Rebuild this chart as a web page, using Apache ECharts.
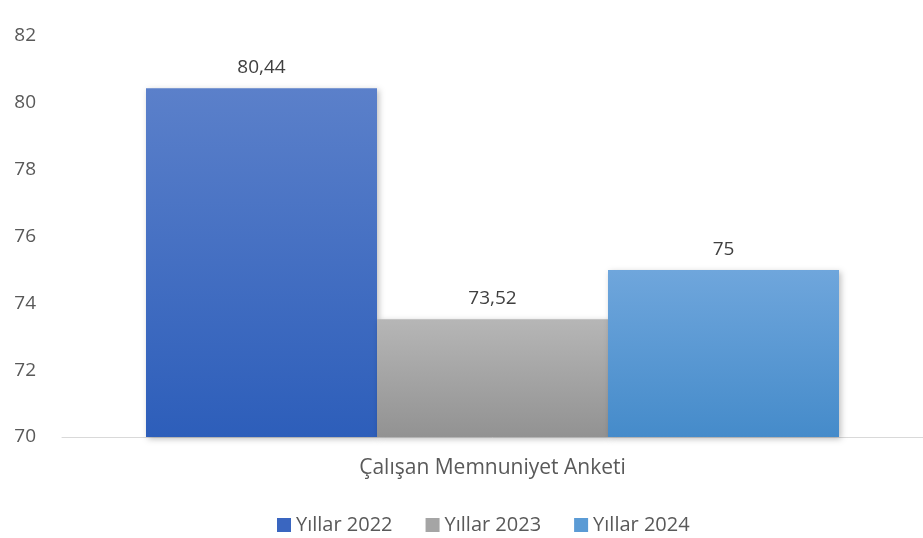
<!DOCTYPE html>
<html>
<head>
<meta charset="utf-8">
<script src="https://cdn.jsdelivr.net/npm/echarts@6/dist/echarts.min.js"></script>
<style>
  html, body { margin: 0; padding: 0; background: #fff; }
  #chart { width: 923px; height: 538px; }
</style>
</head>
<body>
<div id="chart"></div>
<script>
const categories = ["Çalışan Memnuniyet Anketi"];
const seriesNames = ["Yıllar 2022", "Yıllar 2023", "Yıllar 2024"];
const values2022 = [80.44];
const values2023 = [73.52];
const values2024 = [75];
const yTicks = [70, 72, 74, 76, 78, 80, 82];

const font = "'Open Sans', 'Noto Sans', sans-serif";

function grad(top, bottom) {
  return new echarts.graphic.LinearGradient(0, 0, 0, 1, [
    { offset: 0, color: top },
    { offset: 1, color: bottom }
  ]);
}

const colors = [
  grad("#5b80ca", "#2d5eba"),
  grad("#b6b6b6", "#929292"),
  grad("#6fa6dc", "#458bca")
];
const legendColors = ["#3a66c0", "#a5a5a5", "#5b9bd5"];

function makeSeries(name, data, i) {
  return {
    name: name,
    type: "bar",
    data: data,
    barWidth: 231,
    barGap: "0%",
    itemStyle: {
      color: colors[i],
      shadowColor: "rgba(0,0,0,0.25)",
      shadowBlur: 6,
      shadowOffsetX: 2,
      shadowOffsetY: 2
    },
    label: {
      show: true,
      position: "top",
      distance: 11,
      fontFamily: font,
      fontSize: 19,
      color: "#404040",
      formatter: p => String(p.value).replace(".", ",")
    }
  };
}

const chart = echarts.init(document.getElementById("chart"));
chart.setOption({
  animation: false,
  grid: { left: 62, right: 0, top: 36, bottom: 101, containLabel: false },
  legend: {
    top: 510,
    left: 272,
    itemWidth: 14,
    itemHeight: 14,
    itemGap: 33,
    icon: "rect",
    textStyle: { fontFamily: font, fontSize: 20, color: "#595959" },
    data: seriesNames.map((n, i) => ({ name: n, itemStyle: { color: legendColors[i], shadowBlur: 0 } }))
  },
  xAxis: {
    type: "category",
    data: categories,
    axisLine: { lineStyle: { color: "#d9d9d9", width: 1 } },
    axisTick: { show: false },
    axisLabel: { fontFamily: font, fontSize: 21, color: "#595959", margin: 21 }
  },
  yAxis: {
    type: "value",
    min: yTicks[0],
    max: yTicks[yTicks.length - 1],
    interval: 2,
    splitLine: { show: false },
    axisLine: { show: false },
    axisTick: { show: false },
    axisLabel: { fontFamily: font, fontSize: 19, color: "#595959", margin: 26 }
  },
  series: [
    makeSeries(seriesNames[0], values2022, 0),
    makeSeries(seriesNames[1], values2023, 1),
    makeSeries(seriesNames[2], values2024, 2)
  ]
});
</script>
</body>
</html>
